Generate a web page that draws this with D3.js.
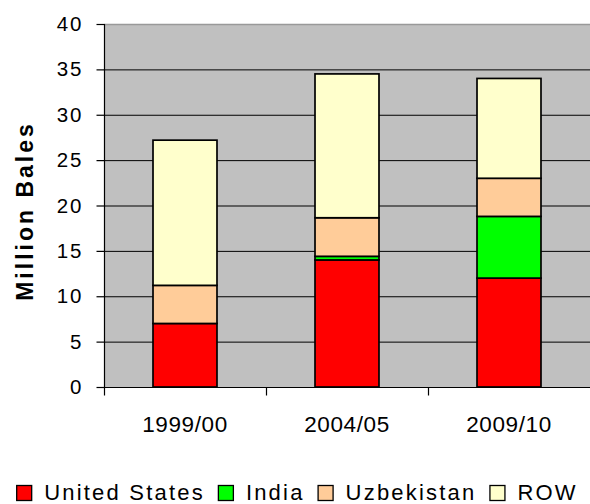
<!DOCTYPE html>
<html>
<head>
<meta charset="utf-8">
<script src="https://cdn.jsdelivr.net/npm/d3@7"></script>
<style>
  html, body { margin: 0; padding: 0; background: #fff; }
  svg { display: block; }
  text { font-family: "Liberation Sans", Arial, sans-serif; fill: #000; }
</style>
</head>
<body>
<svg id="chart" width="590" height="504"></svg>
<script>
const categories = ["1999/00", "2004/05", "2009/10"];
const seriesNames = ["United States", "India", "Uzbekistan", "ROW"];
const unitedStates = [7.0, 14.0, 12.0];
const india = [0.0, 0.4, 6.8];
const uzbekistan = [4.2, 4.25, 4.2];
const row = [16.0, 15.85, 11.0];
const yTicks = [0, 5, 10, 15, 20, 25, 30, 35, 40];
const colors = ["#FF0000", "#00FF00", "#FFCC99", "#FFFFCC"];

const svg = d3.select("#chart");
const pLeft = 104, pRight = 590, pTop = 24, pBottom = 387;

const table = categories.map((c, i) => ({
  category: c,
  "United States": unitedStates[i],
  "India": india[i],
  "Uzbekistan": uzbekistan[i],
  "ROW": row[i]
}));
const stacked = d3.stack().keys(seriesNames)(table);

const x = d3.scaleBand().domain(categories).range([pLeft, pRight]).padding(0);
const y = d3.scaleLinear().domain([0, 40]).range([pBottom, pTop]);
const barW = x.bandwidth() * 0.395;

// plot background
svg.append("rect")
  .attr("x", pLeft).attr("y", pTop)
  .attr("width", pRight - pLeft).attr("height", pBottom - pTop)
  .attr("fill", "#C0C0C0");

// gridlines
svg.append("g").selectAll("line")
  .data(yTicks.filter(t => t > 0 && t < 40))
  .join("line")
  .attr("x1", pLeft).attr("x2", pRight)
  .attr("y1", d => y(d) + 0.5).attr("y2", d => y(d) + 0.5)
  .attr("stroke", "#000").attr("stroke-width", 1);

// top border
svg.append("line")
  .attr("x1", pLeft).attr("x2", pRight)
  .attr("y1", y(40) + 0.5).attr("y2", y(40) + 0.5)
  .attr("stroke", "#999").attr("stroke-width", 1.5);

// bars
svg.append("g").selectAll("g")
  .data(stacked)
  .join("g")
  .attr("fill", (d, i) => colors[i])
  .selectAll("rect")
  .data(d => d.filter(s => s[1] - s[0] > 0))
  .join("rect")
  .attr("x", d => x(d.data.category) + (x.bandwidth() - barW) / 2)
  .attr("y", d => y(d[1]))
  .attr("width", barW)
  .attr("height", d => y(d[0]) - y(d[1]))
  .attr("stroke", "#000")
  .attr("stroke-width", 1.7);

// y axis
const yAxis = d3.axisLeft(y).tickValues(yTicks).tickSize(8).tickPadding(13).tickFormat(d3.format("d"));
const gy = svg.append("g").attr("transform", `translate(${pLeft + 0.5},0)`).call(yAxis);
gy.select(".domain").attr("stroke", "#000").attr("stroke-width", 1.2).attr("d", `M0,${y(40)}V${y(0)}`);
gy.selectAll(".tick line").attr("stroke", "#000").attr("stroke-width", 1.2);
gy.selectAll(".tick text").attr("font-size", "20.5px").attr("letter-spacing", "2px")
  .attr("font-family", "'Liberation Sans', Arial, sans-serif").attr("fill", "#000");

// x axis
const gx = svg.append("g").attr("transform", `translate(0,${pBottom + 0.5})`);
gx.append("line").attr("x1", pLeft).attr("x2", pRight).attr("y1", 0).attr("y2", 0)
  .attr("stroke", "#000").attr("stroke-width", 1.2);
gx.selectAll("line.tk")
  .data(categories.slice(1).map(c => x(c)).concat([pLeft]))
  .join("line").attr("class", "tk")
  .attr("x1", d => d + 0.5).attr("x2", d => d + 0.5).attr("y1", 0).attr("y2", 8)
  .attr("stroke", "#000").attr("stroke-width", 1.2);
gx.selectAll("text")
  .data(categories)
  .join("text")
  .attr("x", d => x(d) + x.bandwidth() / 2)
  .attr("y", 44)
  .attr("text-anchor", "middle")
  .attr("font-size", "22.5px")
  .attr("letter-spacing", "0.6px")
  .text(d => d);

// y title
svg.append("text")
  .attr("transform", `translate(33,211) rotate(-90)`)
  .attr("text-anchor", "middle")
  .attr("font-size", "23px")
  .attr("font-weight", "bold")
  .attr("letter-spacing", "3px")
  .text("Million Bales");

// legend
const lg = svg.append("g");
let cx = 0;
const sq = 16;
seriesNames.forEach((name, i) => {
  const item = lg.append("g").attr("transform", `translate(${cx},0)`);
  item.append("rect").attr("x", 0.5).attr("y", -sq + 1.5).attr("width", sq - 1).attr("height", sq - 1)
    .attr("fill", colors[i]).attr("stroke", "#000").attr("stroke-width", 1.3);
  const t = item.append("text").attr("x", sq + 12).attr("y", 0)
    .attr("font-size", "22px").attr("letter-spacing", "2.2px").text(name);
  const w = t.node().getComputedTextLength();
  cx += sq + 12 + w + 13;
});
const lgW = cx - 13;
lg.attr("transform", `translate(${297 - lgW / 2},500)`);
</script>
</body>
</html>
